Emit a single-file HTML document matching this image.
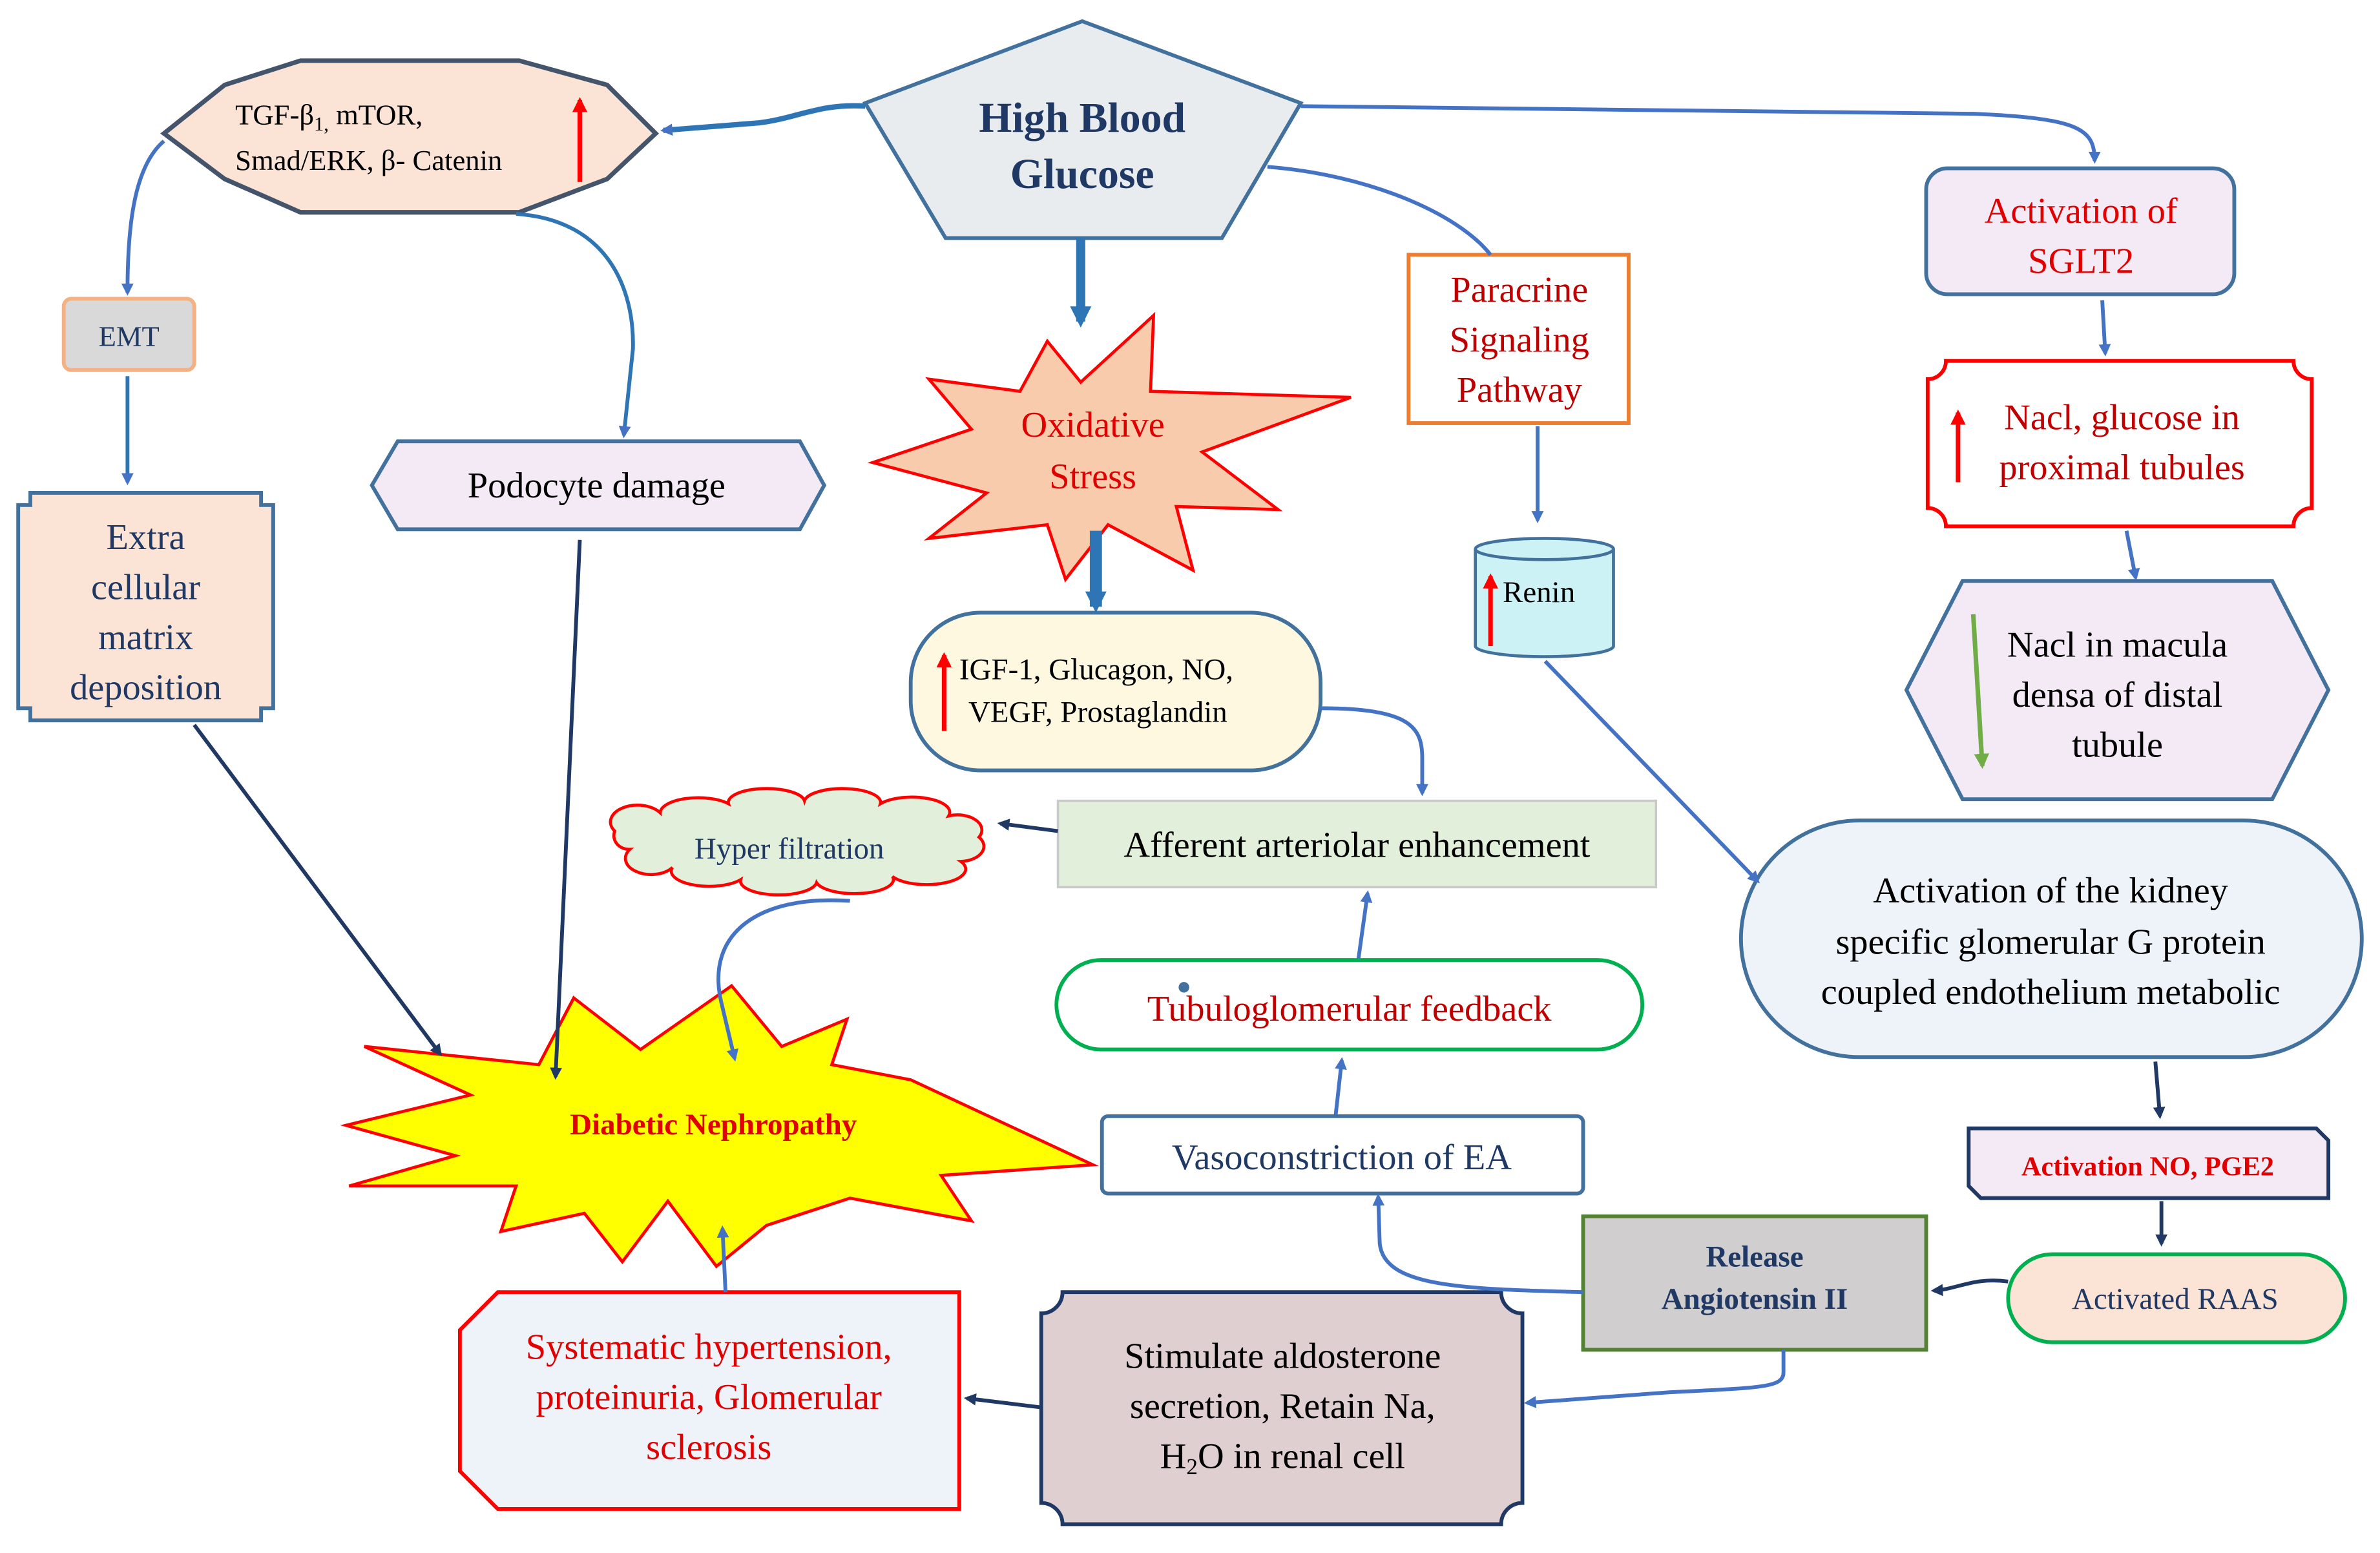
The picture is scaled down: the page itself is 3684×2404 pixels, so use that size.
<!DOCTYPE html>
<html><head><meta charset="utf-8"><style>
html,body{margin:0;padding:0;background:#fff;}
svg{display:block;font-family:"Liberation Serif","DejaVu Serif",serif;}
text{font-family:"Liberation Serif","DejaVu Serif",serif;}
</style></head><body>
<svg width="3684" height="2404" viewBox="0 0 1568 1024" preserveAspectRatio="none" xmlns="http://www.w3.org/2000/svg" font-family="Liberation Serif, serif">
<defs>
<marker id="ab" markerWidth="8" markerHeight="8" refX="6" refY="4" orient="auto" markerUnits="userSpaceOnUse" viewBox="0 0 8 8"><path d="M0,0 L8,4 L0,8 z" fill="#4472c4"/></marker>
<marker id="an" markerWidth="8" markerHeight="8" refX="6" refY="4" orient="auto" markerUnits="userSpaceOnUse" viewBox="0 0 8 8"><path d="M0,0 L8,4 L0,8 z" fill="#1f3864"/></marker>
<marker id="at" markerWidth="14" markerHeight="14" refX="10" refY="7" orient="auto" markerUnits="userSpaceOnUse" viewBox="0 0 14 14"><path d="M0,0 L14,7 L0,14 z" fill="#2e75b6"/></marker>
<marker id="ar" markerWidth="10" markerHeight="10" refX="8" refY="5" orient="auto" markerUnits="userSpaceOnUse" viewBox="0 0 10 10"><path d="M0,0 L10,5 L0,10 z" fill="#ff0000"/></marker>
<marker id="ag" markerWidth="10" markerHeight="10" refX="8" refY="5" orient="auto" markerUnits="userSpaceOnUse" viewBox="0 0 10 10"><path d="M0,0 L10,5 L0,10 z" fill="#70ad47"/></marker>
</defs>
<rect width="1568" height="1024" fill="#fff"/>

<!-- TGF octagon -->
<polygon points="108,88 148,56 198,40 342,40 400,56 432,88 400,118 342,140 198,140 148,118" fill="#fbe3d6" stroke="#44546a" stroke-width="3"/>
<text x="155" y="82" font-size="19">TGF-β<tspan font-size="13" dy="4">1,</tspan><tspan dy="-4"> mTOR,</tspan></text>
<text x="155" y="112" font-size="19">Smad/ERK, β- Catenin</text>
<line x1="382" y1="120" x2="382" y2="66" stroke="#ff0000" stroke-width="3" marker-end="url(#ar)"/>

<!-- High Blood Glucose -->
<polygon points="570,68 713,14 857,68 805,157 623,157" fill="#e8ecef" stroke="#41719c" stroke-width="2.5"/>
<text x="713" y="87" font-size="28" font-weight="bold" fill="#1f3864" text-anchor="middle">High Blood</text>
<text x="713" y="124" font-size="28" font-weight="bold" fill="#1f3864" text-anchor="middle">Glucose</text>

<!-- EMT -->
<rect x="42" y="197" width="86" height="47" rx="5" fill="#d9d9d9" stroke="#f4b183" stroke-width="2.5"/>
<text x="85" y="228" font-size="19" fill="#1f3864" text-anchor="middle">EMT</text>

<!-- ECM -->
<path d="M20,325 H172 V333 H180 V467 H172 V475 H20 V467 H12 V333 H20 Z" fill="#fbe3d6" stroke="#41719c" stroke-width="2.5"/>
<g font-size="24" fill="#1f3864" text-anchor="middle">
<text x="96" y="362">Extra</text><text x="96" y="395">cellular</text><text x="96" y="428">matrix</text><text x="96" y="461">deposition</text></g>

<!-- Podocyte -->
<polygon points="245,320 262,291 527,291 543,320 527,349 262,349" fill="#f3eaf5" stroke="#41719c" stroke-width="2.5"/>
<text x="393" y="328" font-size="24" fill="#000" text-anchor="middle">Podocyte damage</text>

<!-- Oxidative stress star -->
<polygon points="575,305 640,283 612,250 672,258 690,225 712,252 760,208 758,258 890,262 792,298 842,336 775,334 786,376 730,346 702,382 690,346 612,355 650,325" fill="#f8cbad" stroke="#ff0000" stroke-width="2"/>
<text x="720" y="288" font-size="24" fill="#e00000" text-anchor="middle">Oxidative</text>
<text x="720" y="322" font-size="24" fill="#e00000" text-anchor="middle">Stress</text>

<!-- IGF -->
<rect x="600" y="404" width="270" height="104" rx="46" fill="#fff8e1" stroke="#41719c" stroke-width="2.5"/>
<text x="632" y="448" font-size="20">IGF-1, Glucagon, NO,</text>
<text x="638" y="476" font-size="20">VEGF, Prostaglandin</text>
<line x1="622" y1="482" x2="622" y2="432" stroke="#ff0000" stroke-width="3" marker-end="url(#ar)"/>

<!-- Paracrine -->
<rect x="928" y="168" width="145" height="111" fill="#fff" stroke="#ed7d31" stroke-width="2.5"/>
<g font-size="24" fill="#c00000" text-anchor="middle">
<text x="1001" y="199">Paracrine</text><text x="1001" y="232">Signaling</text><text x="1001" y="265">Pathway</text></g>

<!-- Renin -->
<path d="M972,362 V426 A45.5,7 0 0 0 1063,426 V362" fill="#ccf2f5" stroke="#41719c" stroke-width="2"/>
<ellipse cx="1017.5" cy="362" rx="45.5" ry="7" fill="#ccf2f5" stroke="#41719c" stroke-width="2"/>
<text x="990" y="397" font-size="20">Renin</text>
<line x1="982" y1="426" x2="982" y2="380" stroke="#ff0000" stroke-width="3" marker-end="url(#ar)"/>

<!-- SGLT2 -->
<rect x="1269" y="111" width="203" height="83" rx="14" fill="#f3eaf5" stroke="#41719c" stroke-width="2.5"/>
<text x="1371" y="147" font-size="24" fill="#e00000" text-anchor="middle">Activation of</text>
<text x="1371" y="180" font-size="24" fill="#e00000" text-anchor="middle">SGLT2</text>

<!-- Nacl glucose -->
<path d="M1282,238 H1511 A12,12 0 0 0 1523,250 V335 A12,12 0 0 0 1511,347 H1282 A12,12 0 0 0 1270,335 V250 A12,12 0 0 0 1282,238 Z" fill="#fff" stroke="#ff0000" stroke-width="2.5"/>
<text x="1398" y="283" font-size="24" fill="#c00000" text-anchor="middle">Nacl, glucose in</text>
<text x="1398" y="316" font-size="24" fill="#c00000" text-anchor="middle">proximal tubules</text>
<line x1="1290" y1="318" x2="1290" y2="272" stroke="#ff0000" stroke-width="3" marker-end="url(#ar)"/>

<!-- macula hexagon -->
<polygon points="1256,455 1293,383 1497,383 1534,455 1497,527 1293,527" fill="#f3eaf5" stroke="#41719c" stroke-width="2.5"/>
<g font-size="24" fill="#000" text-anchor="middle">
<text x="1395" y="433">Nacl in macula</text><text x="1395" y="466">densa of distal</text><text x="1395" y="499">tubule</text></g>
<line x1="1300" y1="405" x2="1306" y2="505" stroke="#70ad47" stroke-width="3" marker-end="url(#ag)"/>

<!-- kidney activation -->
<rect x="1147" y="541" width="409" height="156" rx="78" fill="#eef3fa" stroke="#41719c" stroke-width="2.5"/>
<g font-size="24" fill="#000" text-anchor="middle">
<text x="1351" y="595">Activation of the kidney</text><text x="1351" y="629">specific glomerular G protein</text><text x="1351" y="662">coupled endothelium metabolic</text></g>

<!-- Afferent -->
<rect x="697" y="528" width="394" height="57" fill="#e2efda" stroke="#c9c9c9" stroke-width="1.5"/>
<text x="894" y="565" font-size="24" fill="#000" text-anchor="middle">Afferent arteriolar enhancement</text>

<!-- Hyper filtration cloud -->
<path d="M405,548 a16,10 0 0 1 30,-12 a25,10 0 0 1 45,-6 a25,9 0 0 1 50,-2 a25,9 0 0 1 50,2 a25,10 0 0 1 45,8 a16,10 0 0 1 20,14 a16,10 0 0 1 -12,16 a25,10 0 0 1 -45,10 a25,9 0 0 1 -50,4 a25,9 0 0 1 -50,-2 a25,10 0 0 1 -45,-8 a16,10 0 0 1 -28,-12 a10,9 0 0 1 -10,-12 z" fill="#e2efda" stroke="#ff0000" stroke-width="2"/>
<text x="520" y="566" font-size="20" fill="#1f3864" text-anchor="middle">Hyper filtration</text>

<!-- Tubuloglomerular -->
<rect x="696" y="633" width="386" height="59" rx="29.5" fill="#fff" stroke="#00b050" stroke-width="2.5"/>
<text x="889" y="673" font-size="24" fill="#c00000" text-anchor="middle">Tubuloglomerular feedback</text>
<circle cx="780" cy="651" r="3.5" fill="#41719c"/>

<!-- Vasoconstriction -->
<rect x="726" y="736" width="317" height="51" rx="4" fill="#fff" stroke="#41719c" stroke-width="2.5"/>
<text x="884" y="771" font-size="24" fill="#1f3864" text-anchor="middle">Vasoconstriction of EA</text>

<!-- Diabetic nephropathy star -->
<polygon points="228,742 310,722 240,690 355,702 378,658 422,692 482,650 515,690 558,672 548,702 600,712 720,768 620,775 640,805 560,790 505,808 472,835 440,792 410,832 385,800 330,812 340,782 230,782 300,762" fill="#ffff00" stroke="#ff0000" stroke-width="2"/>
<text x="470" y="748" font-size="20" font-weight="bold" fill="#e00000" text-anchor="middle">Diabetic Nephropathy</text>

<!-- Release Angiotensin -->
<rect x="1043" y="802" width="226" height="88" fill="#d0cece" stroke="#548235" stroke-width="2.5"/>
<text x="1156" y="835" font-size="20" font-weight="bold" fill="#1f3864" text-anchor="middle">Release</text>
<text x="1156" y="863" font-size="20" font-weight="bold" fill="#1f3864" text-anchor="middle">Angiotensin II</text>

<!-- Activation NO PGE2 -->
<polygon points="1297,744 1526,744 1534,752 1534,790 1305,790 1297,782" fill="#f3eaf5" stroke="#1f3864" stroke-width="2.5"/>
<text x="1415" y="775" font-size="18" font-weight="bold" fill="#e00000" text-anchor="middle">Activation NO, PGE2</text>

<!-- Activated RAAS -->
<rect x="1323" y="827" width="222" height="58" rx="29" fill="#fbe3d6" stroke="#00b050" stroke-width="2.5"/>
<text x="1433" y="863" font-size="20" fill="#1f3864" text-anchor="middle">Activated RAAS</text>

<!-- Stimulate aldosterone -->
<path d="M700,852 H989 A14,14 0 0 0 1003,866 V991 A14,14 0 0 0 989,1005 H700 A14,14 0 0 0 686,991 V866 A14,14 0 0 0 700,852 Z" fill="#dfcfd0" stroke="#1f3864" stroke-width="2.5"/>
<g font-size="24" fill="#000" text-anchor="middle">
<text x="845" y="902">Stimulate aldosterone</text><text x="845" y="935">secretion, Retain Na,</text><text x="845" y="968">H<tspan font-size="15" dy="4">2</tspan><tspan dy="-4">O in renal cell</tspan></text></g>

<!-- Systematic hypertension -->
<polygon points="328,852 632,852 632,995 328,995 303,970 303,877" fill="#eef3fa" stroke="#ff0000" stroke-width="2.5"/>
<g font-size="24" fill="#e00000" text-anchor="middle">
<text x="467" y="896">Systematic hypertension,</text><text x="467" y="929">proteinuria, Glomerular</text><text x="467" y="962">sclerosis</text></g>

<!-- connectors (on top) -->
<g fill="none" stroke="#4472c4" stroke-width="2.5">
<path d="M570,70 C540,68 525,78 500,81 L437,86" stroke="#2e75b6" stroke-width="3.5" marker-end="url(#ab)"/>
<path d="M857,70 L1300,75 C1370,78 1380,85 1380,106" marker-end="url(#ab)"/>
<path d="M835,110 C900,115 960,140 982,168"/>
<path d="M108,93 C88,110 84,150 84,193" marker-end="url(#ab)"/>
<path d="M340,141 C400,145 418,190 417,230 L411,287" stroke="#2e75b6" marker-end="url(#ab)"/>
<path d="M84,248 L84,318" stroke="#2e75b6" marker-end="url(#ab)"/>
<path d="M1013,281 L1013,343" marker-end="url(#ab)"/>
<path d="M1018,436 L1158,581" marker-end="url(#ab)"/>
<path d="M1385,198 L1387,233" marker-end="url(#ab)"/>
<path d="M1401,350 L1407,381" marker-end="url(#ab)"/>
<path d="M1043,852 C960,850 912,848 909,820 L908,789" marker-end="url(#ab)"/>
<path d="M1175,890 L1175,905 C1175,915 1160,915 1100,918 L1006,925" marker-end="url(#ab)"/>
<path d="M478,852 L476,810" marker-end="url(#ab)"/>
<path d="M880,735 L884,699" marker-end="url(#ab)"/>
<path d="M895,632 L901,589" marker-end="url(#ab)"/>
<path d="M870,467 C930,467 937,480 937,500 L937,523" marker-end="url(#ab)"/>
<path d="M560,594 C500,590 465,615 475,660 L484,698" marker-end="url(#ab)"/>
</g>
<g fill="none" stroke="#1f3864" stroke-width="2.5">
<path d="M128,478 L290,695" marker-end="url(#an)"/>
<path d="M382,356 L366,710" marker-end="url(#an)"/>
<path d="M1420,700 L1423,736" marker-end="url(#an)"/>
<path d="M1424,792 L1424,820" marker-end="url(#an)"/>
<path d="M1323,845 C1300,842 1290,850 1274,851" marker-end="url(#an)"/>
<path d="M686,928 L637,922" marker-end="url(#an)"/>
<path d="M697,548 L659,543" marker-end="url(#an)"/>
</g>
<path d="M712,157 L712,212" stroke="#2e75b6" stroke-width="6" fill="none" marker-end="url(#at)"/>
<path d="M722,350 L722,400" stroke="#2e75b6" stroke-width="8" fill="none" marker-end="url(#at)"/>
</svg>
</body></html>
